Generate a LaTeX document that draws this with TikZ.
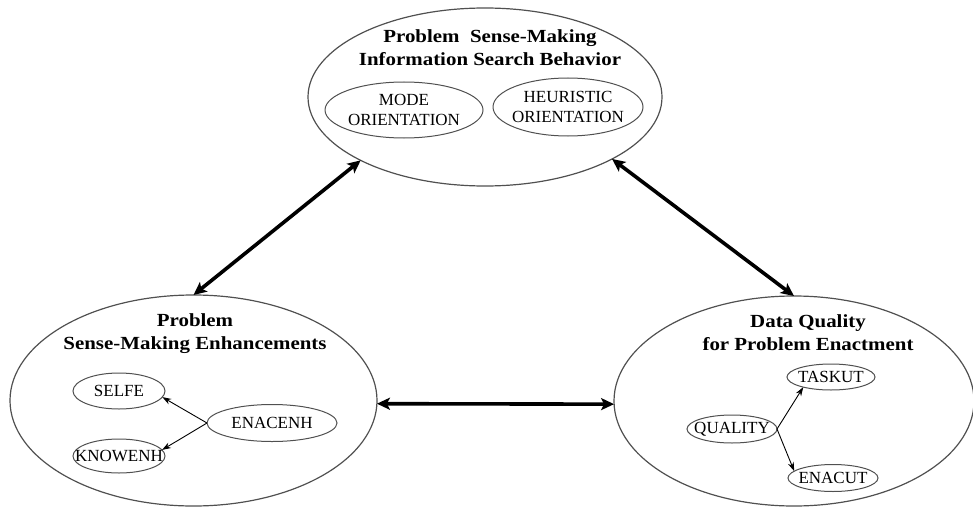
\documentclass[tikz,border=0pt]{standalone}
\usepackage{fontspec}
\setmainfont{Liberation Serif}
\newfontfamily\headfont[FakeStretch=1.13]{Liberation Serif}
\usetikzlibrary{shapes.geometric,arrows.meta}
\definecolor{rim}{HTML}{505050}
\begin{document}
\begin{tikzpicture}[x=1pt,y=-1pt,
  group/.style={ellipse,draw=rim,line width=1.2pt,inner sep=0pt,outer sep=0pt},
  itemtext/.style={inner sep=0pt,font=\fontsize{17}{20}\selectfont,align=center},
  item/.style={ellipse,draw=rim,line width=1pt,inner sep=0pt,outer sep=0pt,
    label={[itemtext]center:#1}},
  heading/.style={font=\headfont\bfseries\fontsize{18.5}{23}\selectfont,align=center},
  link/.style={line width=3.6pt,{Stealth[length=13pt,width=12pt,inset=3pt]}-{Stealth[length=13pt,width=12pt,inset=3pt]}},
  sub/.style={line width=0.9pt,-{Stealth[length=9pt,width=6pt]}}]
\useasboundingbox (0,0) rectangle (973,508);

% upper group
\node[group,minimum width=354pt,minimum height=178pt] (search) at (485,97) {};
\node[heading] (searchT) at (490,48) {Problem\ \ Sense-Making\\Information Search Behavior};
\node[item={MODE\\ORIENTATION},minimum width=158pt,minimum height=56pt] (mode) at (404,110) {};
\node[item={HEURISTIC\\ORIENTATION},minimum width=150pt,minimum height=58pt] (heur) at (568,107) {};

% lower left group
\node[group,minimum width=367pt,minimum height=211pt] (enh) at (193.5,400.5) {};
\node[heading] (enhT) at (195,334) {Problem\\Sense-Making Enhancements};
\node[item=SELFE,minimum width=92pt,minimum height=36pt] (selfe) at (119,391) {};
\node[item=ENACENH,minimum width=130pt,minimum height=37pt] (enacenh) at (272,423) {};
\node[item=KNOWENH,minimum width=92pt,minimum height=34pt] (knowenh) at (119,456) {};

% lower right group
\node[group,minimum width=360pt,minimum height=210pt] (dq) at (794,401) {};
\node[heading] (dqT) at (808,333) {Data Quality\\for Problem Enactment};
\node[item=TASKUT,minimum width=88pt,minimum height=26pt] (taskut) at (831,377) {};
\node[item=QUALITY,minimum width=90pt,minimum height=28pt] (quality) at (732,429) {};
\node[item=ENACUT,minimum width=90pt,minimum height=27pt] (enacut) at (833,478) {};

% links between the groups
\draw[link] (enh.north) -- (search.207);
\draw[link] (search.334) -- (dq.north);
\draw[link] (enh.-1.5) -- (dq.181.5);

% links inside the groups
\draw[sub] (enacenh.west) -- (selfe.-8);
\draw[sub] (enacenh.west) -- (knowenh.8);
\draw[sub] (quality.east) -- (taskut.200);
\draw[sub] (quality.east) -- (enacut.170);
\end{tikzpicture}
\end{document}
